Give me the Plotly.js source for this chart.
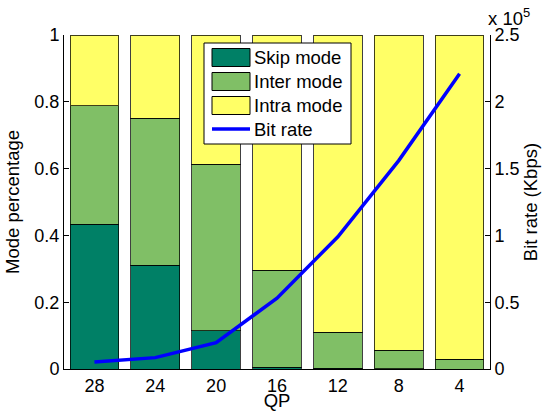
<!DOCTYPE html>
<html>
<head>
<meta charset="utf-8">
<script src="https://cdn.plot.ly/plotly-3.0.1.min.js"></script>
<style>
  html, body { margin: 0; padding: 0; background: #fff; }
  #chart { width: 542px; height: 411px; }
</style>
</head>
<body>
<div id="chart"></div>
<script>
// Quantisation parameter (x categories)
const qp = ['28', '24', '20', '16', '12', '8', '4'];

// Share of each coding mode per QP
const skipMode  = [0.434, 0.311, 0.114, 0.005, 0.002, 0.001, 0.000];
const interMode = [0.354, 0.440, 0.499, 0.290, 0.108, 0.055, 0.029];
const intraMode = [0.212, 0.249, 0.387, 0.705, 0.890, 0.944, 0.971];

// Bit rate in Kbps
const bitRate = [5200, 8500, 19700, 53000, 99000, 156000, 221000];

// Right-axis ticks (shown scaled by 10^5)
const rateTickVals = [0, 50000, 100000, 150000, 200000, 250000];
const rateTickText = ['0', '0.5', '1', '1.5', '2', '2.5'];

const seriesNames = ['Skip mode', 'Inter mode', 'Intra mode', 'Bit rate'];
const colors = ['#008066', '#80bf66', '#ffff66', '#0000ff'];

const FONT = 'Liberation Sans';
const FS = 18;      // tick labels
const FT = 18.5;    // titles and legend text
const edge = { color: 'rgba(0,0,0,0.75)', width: 1 };

const barTrace = (vals, i) => ({
  type: 'bar', x: qp, y: vals, name: seriesNames[i],
  marker: { color: colors[i], line: edge },
  yaxis: 'y', showlegend: false, hoverinfo: 'skip'
});

const traces = [
  barTrace(skipMode, 0),
  barTrace(interMode, 1),
  barTrace(intraMode, 2),
  {
    type: 'scatter', mode: 'lines', x: qp, y: bitRate, name: seriesNames[3],
    line: { color: colors[3], width: 3.5 }, yaxis: 'y2', showlegend: false
  }
];

// Plot area in pixels
const W = 542, H = 411;
const M = { l: 64, r: 52, t: 35, b: 42 };
const pw = W - M.l - M.r, ph = H - M.t - M.b;
const px = x => (x - M.l) / pw;          // pixel -> paper x
const py = y => (H - M.b - y) / ph;      // pixel -> paper y

// Boxed legend in the upper middle of the plot
const shapes = [{
  type: 'rect', xref: 'paper', yref: 'paper', layer: 'above',
  x0: px(204), x1: px(351), y0: py(144), y1: py(43),
  fillcolor: '#ffffff', line: { color: '#000', width: 1 }
}];
const annotations = [];
const rowY = [57.5, 81.5, 105.5, 129];
seriesNames.forEach((name, i) => {
  if (i < 3) {
    shapes.push({
      type: 'rect', xref: 'paper', yref: 'paper', layer: 'above',
      x0: px(212), x1: px(250), y0: py(rowY[i] + 9), y1: py(rowY[i] - 9),
      fillcolor: colors[i], line: { color: '#000', width: 1 }
    });
  } else {
    shapes.push({
      type: 'line', xref: 'paper', yref: 'paper', layer: 'above',
      x0: px(212), x1: px(250), y0: py(rowY[i]), y1: py(rowY[i]),
      line: { color: colors[i], width: 3.5 }
    });
  }
  annotations.push({
    xref: 'paper', yref: 'paper', x: px(252), y: py(rowY[i]),
    xanchor: 'left', yanchor: 'middle', showarrow: false,
    text: name, font: { family: FONT, size: FT, color: '#000' }
  });
});

// Exponent marker of the right axis
annotations.push({
  xref: 'paper', yref: 'paper', x: px(486), y: py(31),
  xanchor: 'left', yanchor: 'bottom', showarrow: false,
  text: 'x 10<sup>5</sup>', font: { family: FONT, size: FT, color: '#000' }
});

const layout = {
  width: W, height: H,
  margin: M,
  paper_bgcolor: '#fff', plot_bgcolor: '#fff',
  font: { family: FONT, size: FS, color: '#000' },
  barmode: 'stack', bargap: 0.2,
  showlegend: false,
  xaxis: {
    type: 'category', range: [-0.5, 6.5],
    showline: true, linecolor: '#000', linewidth: 1, mirror: false,
    ticks: '', showgrid: false, zeroline: false,
    tickfont: { family: FONT, size: FS },
    title: { text: 'QP', font: { family: FONT, size: FT }, standoff: 5 }
  },
  yaxis: {
    range: [0, 1], dtick: 0.2, tick0: 0,
    showline: true, linecolor: '#000', linewidth: 1,
    ticks: 'inside', ticklen: 5, tickcolor: '#000',
    showgrid: false, zeroline: false,
    tickfont: { family: FONT, size: FS },
    title: { text: 'Mode percentage', font: { family: FONT, size: FT }, standoff: 9 }
  },
  yaxis2: {
    overlaying: 'y', side: 'right', range: [0, 250000],
    tickmode: 'array', tickvals: rateTickVals, ticktext: rateTickText,
    showline: true, linecolor: '#000', linewidth: 1,
    ticks: 'inside', ticklen: 5, tickcolor: '#000',
    showgrid: false, zeroline: false,
    tickfont: { family: FONT, size: FS },
    title: { text: 'Bit rate (Kbps)', font: { family: FONT, size: FT }, standoff: 4 }
  },
  shapes: shapes,
  annotations: annotations
};

Plotly.newPlot('chart', traces, layout, { displayModeBar: false, staticPlot: true });
</script>
</body>
</html>
